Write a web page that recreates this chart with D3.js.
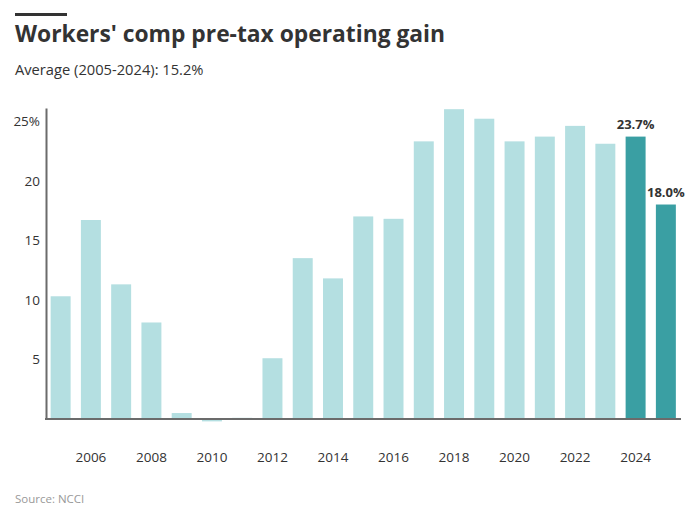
<!DOCTYPE html>
<html>
<head>
<meta charset="utf-8">
<script src="https://cdn.jsdelivr.net/npm/d3@7"></script>
<style>
body { margin: 0; background: #fff; font-family: "Open Sans", sans-serif; }
</style>
</head>
<body>
<div id="chart"></div>
<script>
var years = ["2005","2006","2007","2008","2009","2010","2011","2012","2013","2014","2015","2016","2017","2018","2019","2020","2021","2022","2023","2024","2025"]
var gains = [10.3,16.7,11.3,8.1,0.5,-0.2,0.1,5.1,13.5,11.8,17.0,16.8,23.3,26.0,25.2,23.3,23.7,24.6,23.1,23.7,18.0]
var highlighted = ["2024","2025"]
var yTicks = [5,10,15,20,25]
var xTickLabels = ["2006","2008","2010","2012","2014","2016","2018","2020","2022","2024"]

var data = years.map(function(d,i){ return {year: d, value: gains[i]} })

var width = 700, height = 521

var svg = d3.select("#chart").append("svg")
    .attr("width", width)
    .attr("height", height)

// header
svg.append("rect").attr("x", 15).attr("y", 13).attr("width", 52).attr("height", 3).attr("fill", "#333")
svg.append("text").attr("x", 15).attr("y", 42)
    .style("font-size", "22.8px").style("font-weight", 700).attr("fill", "#333")
    .text("Workers' comp pre-tax operating gain")
svg.append("text").attr("x", 15).attr("y", 75)
    .style("font-size", "14.7px").attr("fill", "#333")
    .text("Average (2005-2024): 15.2%")

var x = d3.scaleBand()
    .domain(years)
    .range([45.5, 681])
    .paddingInner(0.34)
    .paddingOuter(0.17)

var y = d3.scaleLinear()
    .domain([0, 26.1])
    .range([419, 108])

// bars
svg.selectAll(".bar")
    .data(data)
    .enter().append("rect")
    .attr("class", "bar")
    .attr("x", function(d){ return x(d.year) })
    .attr("width", x.bandwidth())
    .attr("y", function(d){ return y(Math.max(0, d.value)) })
    .attr("height", function(d){ return Math.abs(y(d.value) - y(0)) })
    .attr("fill", function(d){ return highlighted.indexOf(d.year) >= 0 ? "#3a9fa3" : "#b4dfe1" })

// labels on highlighted bars
svg.selectAll(".vlabel")
    .data(data.filter(function(d){ return highlighted.indexOf(d.year) >= 0 }))
    .enter().append("text")
    .attr("class", "vlabel")
    .attr("x", function(d){ return x(d.year) + x.bandwidth()/2 })
    .attr("y", function(d){ return y(d.value) - 8 })
    .attr("text-anchor", "middle")
    .style("font-size", "13px").style("font-weight", 700).attr("fill", "#333")
    .text(function(d){ return d.value.toFixed(1) + "%" })

// y axis
var yAxis = svg.append("g")
    .attr("transform", "translate(46,0)")
    .call(d3.axisLeft(y).tickValues(yTicks).tickSize(0).tickPadding(6)
        .tickFormat(function(d){ return d == 25 ? d + "%" : d }))
yAxis.select(".domain").attr("stroke", "#6b6b6b").attr("stroke-width", 2)
yAxis.selectAll("text").style("font-size", "13.5px").style("font-family", "Open Sans").attr("fill", "#333")

// x axis
var xAxis = svg.append("g")
    .attr("transform", "translate(0,419)")
    .call(d3.axisBottom(x).tickValues(xTickLabels).tickSize(0).tickPadding(33))
xAxis.select(".domain").attr("d", "M45,0H681").attr("stroke", "#6b6b6b").attr("stroke-width", 2)
xAxis.selectAll("text").style("font-size", "13.5px").style("font-family", "Open Sans").attr("fill", "#333")

svg.append("text").attr("x", 15).attr("y", 503)
    .style("font-size", "11.5px").attr("fill", "#999")
    .text("Source: NCCI")
</script>
</body>
</html>
